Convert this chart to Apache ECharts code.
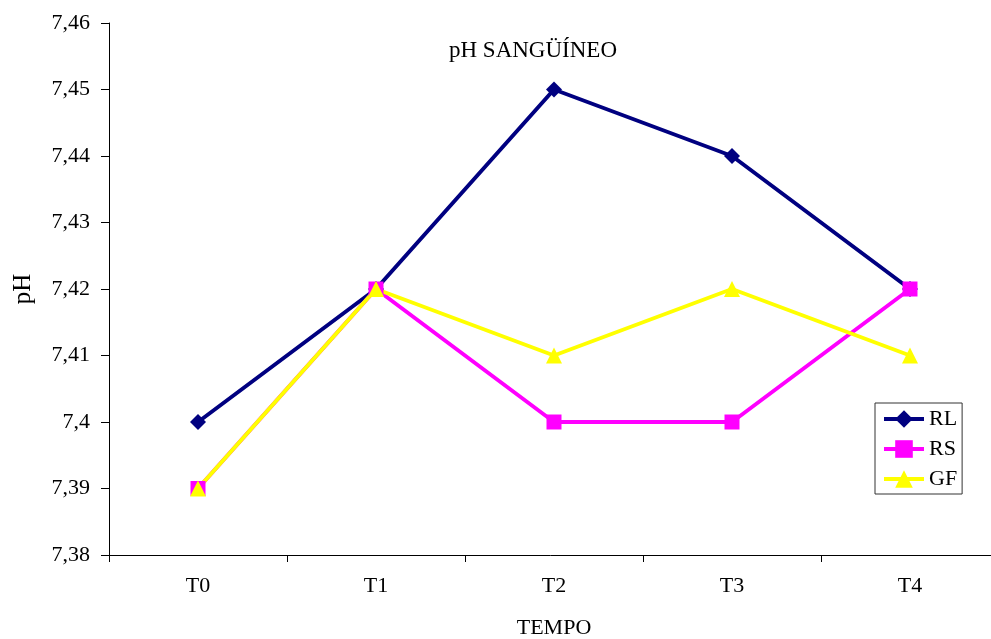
<!DOCTYPE html>
<html>
<head>
<meta charset="utf-8">
<script src="https://cdn.jsdelivr.net/npm/echarts@6/dist/echarts.min.js"></script>
<style>
  html, body { margin: 0; padding: 0; background: #fff; }
  #chart { width: 991px; height: 639px; }
</style>
</head>
<body>
<div id="chart"></div>
<script>
var categories = ["T0", "T1", "T2", "T3", "T4"];
var rlValues = [7.40, 7.42, 7.45, 7.44, 7.42];
var rsValues = [7.39, 7.42, 7.40, 7.40, 7.42];
var gfValues = [7.39, 7.42, 7.41, 7.42, 7.41];

var font = "'Liberation Serif', 'Times New Roman', serif";

function line(name, data, color, symbol, size) {
    return {
        name: name,
        type: "line",
        data: data,
        symbol: symbol,
        symbolSize: size,
        showAllSymbol: true,
        lineStyle: { color: color, width: 4 },
        itemStyle: { color: color },
        emphasis: { disabled: true }
    };
}

var option = {
    animation: false,
    textStyle: { fontFamily: font },
    title: {
        text: "pH SANGÜÍNEO",
        left: 444,
        top: 34,
        textStyle: { fontFamily: font, fontSize: 23, fontWeight: "normal", color: "#000" }
    },
    legend: {
        orient: "vertical",
        left: 875,
        top: 403,
        padding: [5, 5, 4, 7],
        itemWidth: 40,
        itemHeight: 22,
        itemGap: 8,
        borderColor: "#333",
        borderWidth: 1,
        lineStyle: { width: 4 },
        textStyle: { fontFamily: font, fontSize: 22, color: "#000" },
        data: ["RL", "RS", "GF"]
    },
    grid: {
        left: 109,
        right: -8,
        top: 23,
        bottom: 84,
        containLabel: false,
        outerBoundsMode: "none"
    },
    xAxis: {
        type: "category",
        data: categories,
        boundaryGap: true,
        name: "TEMPO",
        nameLocation: "middle",
        nameGap: 62,
        nameTextStyle: { fontFamily: font, fontSize: 22, color: "#000" },
        axisLine: { lineStyle: { color: "#000", width: 1 } },
        axisTick: { show: true, inside: false, length: 7, lineStyle: { color: "#000" } },
        axisLabel: { fontFamily: font, fontSize: 22, color: "#000", margin: 20 },
        splitLine: { show: false }
    },
    yAxis: {
        type: "value",
        min: 7.38,
        max: 7.46,
        interval: 0.01,
        name: "pH",
        nameLocation: "middle",
        nameGap: 73,
        nameTextStyle: { fontFamily: font, fontSize: 25, color: "#000" },
        axisLine: { show: true, lineStyle: { color: "#000", width: 1 } },
        axisTick: { show: true, length: 8, lineStyle: { color: "#000" } },
        axisLabel: {
            fontFamily: font,
            fontSize: 22,
            color: "#000",
            margin: 19,
            formatter: function (v) {
                return String(Math.round(v * 100) / 100).replace(".", ",");
            }
        },
        splitLine: { show: false }
    },
    series: [
        line("RL", rlValues, "#000080", "diamond", 16),
        line("RS", rsValues, "#ff00ff", "rect", 15),
        line("GF", gfValues, "#ffff00", "triangle", 16)
    ]
};

echarts.init(document.getElementById("chart")).setOption(option);
</script>
</body>
</html>
